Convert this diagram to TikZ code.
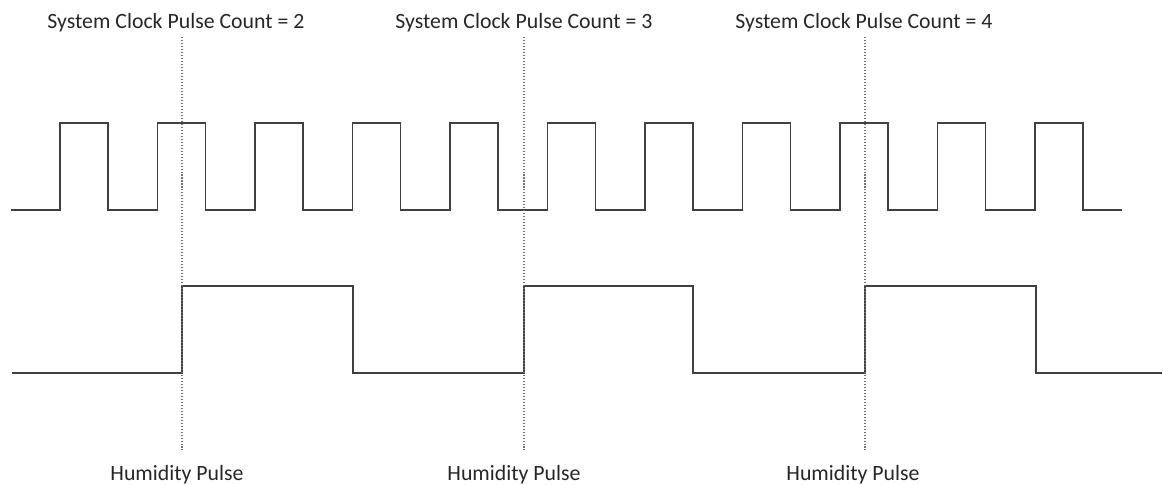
\documentclass[tikz,border=0pt]{standalone}
\usepackage{fontspec}
\setmainfont{Carlito}
\definecolor{wavegray}{HTML}{404040}
\definecolor{markgray}{HTML}{707070}
\tikzset{
	wave/.style={line width=0.5pt,color=wavegray,line join=miter},
	marker/.style={line width=0.45pt,color=markgray,dash pattern=on 0.3pt off 0.55pt},
	caption/.style={anchor=base,inner sep=0pt,text=black!85,font=\fontsize{6.2}{7.4}\selectfont}
}
\begin{document}
\begin{tikzpicture}[x=0.01cm,y=-0.01cm]
	\useasboundingbox (0,0) rectangle (1163,485);
	% system clock
	\draw[wave] (11,210) foreach \k in {0,...,10} {
		-- ({60+97.5*\k},210) -- ({60+97.5*\k},123) -- ({108+97.5*\k},123) -- ({108+97.5*\k},210)
	} -- (1122,210);
	% humidity pulse train
	\draw[wave] (12,373) -| (182,286) -| (353,373) -| (524,286) -| (693,373) -| (865,286) -| (1036,373) -- (1162,373);
	% markers and labels
	\foreach \x/\n/\lx/\hx in {182/2/176/177, 524/3/524/514, 865/4/864/853} {
		\node[caption] (clk\n) at (\lx,29) {System Clock Pulse Count = \n};
		\node[caption] (hum\n) at (\hx,480) {Humidity Pulse};
		\coordinate (top\n) at (\x,37);
		\coordinate (bot\n) at (\x,450);
		\draw[marker] (top\n) -- (bot\n);
	}
\end{tikzpicture}
\end{document}
